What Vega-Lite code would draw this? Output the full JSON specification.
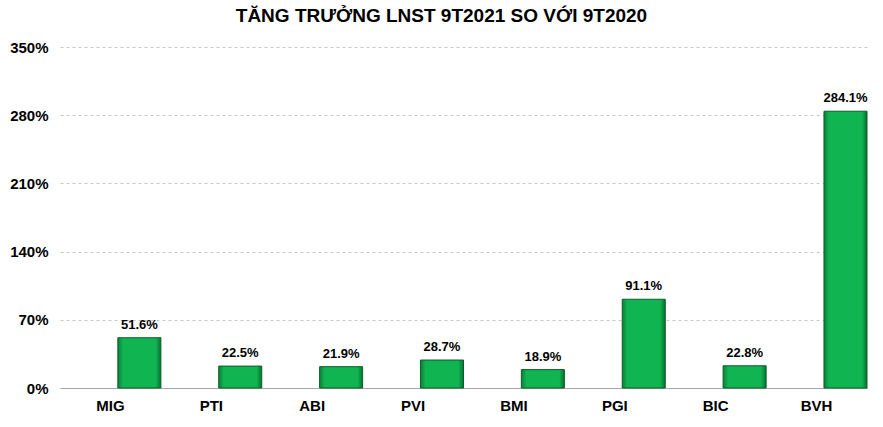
{
  "$schema": "https://vega.github.io/schema/vega-lite/v6.json",
  "autosize": {"type": "none"},
  "padding": {"left": 60, "top": 47, "right": 16, "bottom": 39},
  "width": 807,
  "height": 341,
  "background": "white",
  "title": {
    "text": "TĂNG TRƯỞNG LNST 9T2021 SO VỚI 9T2020",
    "font": "Liberation Sans Narrow, Liberation Sans, Arial",
    "fontSize": 19,
    "fontWeight": "bold",
    "color": "#000000",
    "anchor": "middle",
    "dx": -22,
    "offset": 14
  },
  "config": {
    "view": {"stroke": null},
    "font": "Liberation Sans, Arial"
  },
  "data": {
    "values": [
      {"company": "MIG", "series": "val", "growth": 51.6},
      {"company": "PTI", "series": "val", "growth": 22.5},
      {"company": "ABI", "series": "val", "growth": 21.9},
      {"company": "PVI", "series": "val", "growth": 28.7},
      {"company": "BMI", "series": "val", "growth": 18.9},
      {"company": "PGI", "series": "val", "growth": 91.1},
      {"company": "BIC", "series": "val", "growth": 22.8},
      {"company": "BVH", "series": "val", "growth": 284.1}
    ]
  },
  "encoding": {
    "x": {
      "field": "company",
      "type": "nominal",
      "sort": null,
      "scale": {"paddingInner": 0, "paddingOuter": 0},
      "axis": {
        "title": null,
        "labelAngle": 0,
        "labelFont": "Liberation Sans, Arial",
        "labelFontSize": 15,
        "labelFontWeight": "bold",
        "labelColor": "#000000",
        "labelPadding": 10,
        "ticks": false,
        "domainColor": "#a6a6a6",
        "domainWidth": 1,
        "grid": false
      }
    },
    "xOffset": {
      "field": "series",
      "type": "nominal",
      "scale": {"domain": ["blank", "val"], "paddingInner": 0.1, "paddingOuter": 0.105, "align": 1}
    },
    "y": {
      "field": "growth",
      "type": "quantitative",
      "scale": {"domain": [0, 350], "nice": false},
      "axis": {
        "title": null,
        "values": [0, 70, 140, 210, 280, 350],
        "labelExpr": "datum.value + '%'",
        "labelFont": "Liberation Sans, Arial",
        "labelFontSize": 15,
        "labelFontWeight": "bold",
        "labelColor": "#000000",
        "labelPadding": 12,
        "ticks": false,
        "domain": false,
        "grid": true,
        "gridColor": "#c8c8c8",
        "gridDash": [3, 3],
        "gridWidth": 1
      }
    }
  },
  "layer": [
    {
      "mark": {
        "type": "bar",
        "stroke": "#0b5e2a",
        "strokeWidth": 1,
        "fill": {
          "gradient": "linear",
          "x1": 0, "y1": 0, "x2": 1, "y2": 0,
          "stops": [
            {"offset": 0, "color": "#0a7f36"},
            {"offset": 0.12, "color": "#10b552"},
            {"offset": 0.88, "color": "#10b552"},
            {"offset": 1, "color": "#08702f"}
          ]
        }
      }
    },
    {
      "mark": {
        "type": "text",
        "baseline": "bottom",
        "dy": -6,
        "font": "Liberation Sans, Arial",
        "fontSize": 13,
        "fontWeight": "bold",
        "color": "#000000",
        "text": {"expr": "format(datum.growth, '.1f') + '%'"}
      }
    }
  ]
}
